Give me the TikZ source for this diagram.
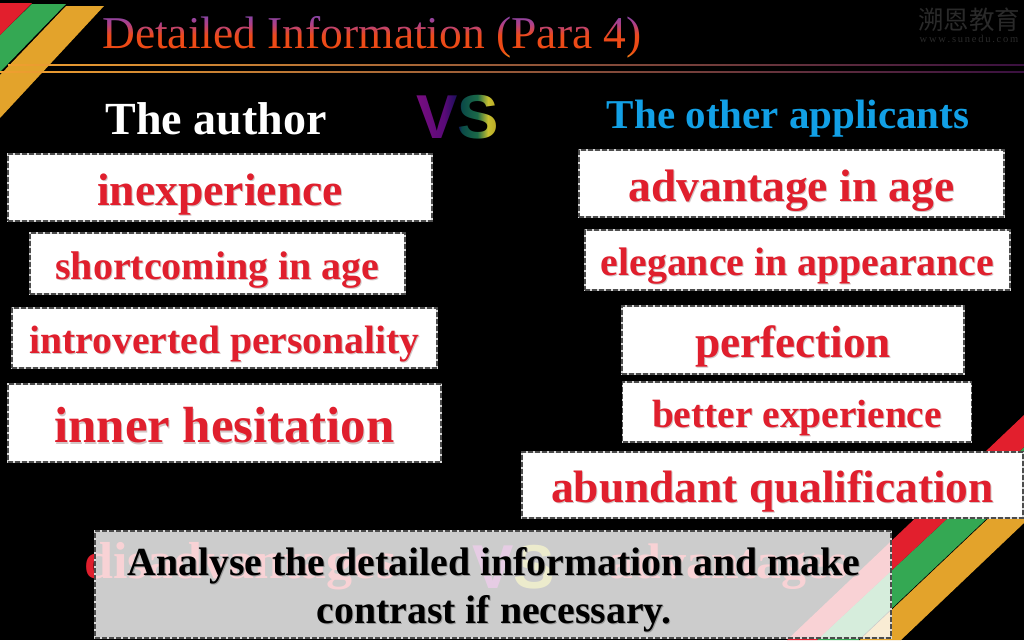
\documentclass[tikz,border=0pt]{standalone}
\usepackage{fontspec}
\setmainfont{Liberation Serif}
\newfontfamily\vsfont{Liberation Sans}
\newfontfamily\cjkfont{Noto Sans CJK SC}
\usetikzlibrary{fadings}
\definecolor{wordred}{HTML}{E01F2D}
\definecolor{wordshadow}{HTML}{D2C6C6}
\definecolor{stripered}{HTML}{E21F2D}
\definecolor{stripegreen}{HTML}{34A853}
\definecolor{stripegold}{HTML}{E3A32B}
\definecolor{skyblue}{HTML}{12A0E6}
\definecolor{marksgray}{HTML}{2A2A2A}
\definecolor{tA}{HTML}{F2A020}
\definecolor{tB}{HTML}{EE4A12}
\definecolor{tC}{HTML}{EC4A1C}
\definecolor{tD}{HTML}{B04088}
\definecolor{tE}{HTML}{6A48B8}
\definecolor{vA}{HTML}{7A0E80}
\definecolor{vB}{HTML}{5A0A78}
\definecolor{vC}{HTML}{141058}
\definecolor{vD}{HTML}{0A4A48}
\definecolor{vE}{HTML}{1A6A48}
\definecolor{vF}{HTML}{C8C030}
\definecolor{vG}{HTML}{B09A20}
\definecolor{ruleA}{HTML}{F0A030}
\definecolor{ruleB}{HTML}{A04A30}
\definecolor{ruleC}{HTML}{3A1040}
\pgfdeclareverticalshading{titlegrad}{100bp}{
  color(0bp)=(tA); color(25bp)=(tA); color(34bp)=(tB); color(50bp)=(tC);
  color(61bp)=(tD); color(75bp)=(tE); color(100bp)=(tE)}
\pgfdeclarehorizontalshading{vsgrad}{100bp}{
  color(0bp)=(vA); color(25bp)=(vA); color(42bp)=(vB); color(50bp)=(vC);
  color(52bp)=(vD); color(61bp)=(vE); color(67bp)=(vF); color(75bp)=(vG); color(100bp)=(vG)}
\begin{tikzfadingfrompicture}[name=titlefade,x=1pt,y=-1pt]
\fill[transparent!100] (-274,-25) rectangle (274,25);
\node[anchor=base west,inner sep=0pt,text=transparent!0,font=\fontsize{45.5}{45.5}\selectfont] at (-270,13) {Detailed Information (Para 4)};
\end{tikzfadingfrompicture}
\begin{tikzfadingfrompicture}[name=vsfade,x=1pt,y=-1pt]
\fill[transparent!100] (-44,-27) rectangle (44,27);
\node[anchor=base west,inner sep=0pt,text=transparent!0,font=\vsfont\bfseries\fontsize{62}{62}\selectfont] at (-42,23) {VS};
\end{tikzfadingfrompicture}
\newcommand{\shtext}[1]{\leavevmode\rlap{\kern1pt\raisebox{-1.2pt}{\textcolor{wordshadow}{#1}}}\textcolor{wordred}{#1}}
\newcommand{\shblack}[1]{\leavevmode\rlap{\kern1pt\raisebox{-1pt}{\textcolor{black!40}{#1}}}\textcolor{black}{#1}}
\tikzset{
  x=1pt,y=-1pt,
  stripe/.style={draw=none},
  dashedge/.style={draw=black!15,line width=1.1pt,
    postaction={draw=black!70,line width=1.1pt,dash pattern=on 5pt off 2pt}},
  wordbox/.style n args={3}{
    rectangle,fill=white,dashedge,
    inner sep=0pt,outer sep=0pt,
    minimum width=#2,minimum height=#3,
    text height=1.0*#1 pt,text depth=0.22*#1 pt,
    font=\fontsize{#1}{#1}\selectfont\bfseries},
  heading/.style={anchor=base,inner sep=0pt,font=\fontsize{#1}{#1}\selectfont\bfseries},
}
\begin{document}
\begin{tikzpicture}
\useasboundingbox (0,0) rectangle (1024,640);
\fill[black] (0,0) rectangle (1024,640);
% top-left stripes
\fill[stripegold,stripe] (66,6) -- (104,6) -- (0,118) -- (0,75) -- cycle;
\fill[stripegreen,stripe] (32,4) -- (66,4) -- (0,72) -- (0,35) -- cycle;
\fill[stripered,stripe] (0,3) -- (32,3) -- (0,35) -- cycle;
% bottom-right stripes
\fill[stripegold,stripe] (1024,484) -- (1024,523) -- (901,640) -- (859,640) -- cycle;
\fill[stripegreen,stripe] (1024,447) -- (1024,484) -- (859,640) -- (817,640) -- cycle;
\fill[stripered,stripe] (1024,415) -- (1024,447) -- (817,640) -- (787,640) -- cycle;
\draw[black,line width=.6pt] (1024,484) -- (859,640);
% title rules
\fill[left color=ruleA,middle color=ruleB,right color=ruleC] (8,64) rectangle (1024,65);
\fill[left color=ruleA,middle color=ruleB,right color=ruleC] (0,71.2) rectangle (1024,72.8);
% watermark
\node[anchor=center,inner sep=0pt,text=marksgray,font=\cjkfont\fontsize{25.5}{25.5}\selectfont] (mark) at (969,20) {溯恩教育};
\node[anchor=center,inner sep=0pt,text=marksgray,font=\fontsize{10.5}{10.5}\selectfont] (url) at (969,39) {w\,w\,w\,.\,s\,u\,n\,e\,d\,u\,.\,c\,o\,m};
% title and VS: gradients shown through text-shaped fadings
\fill[shading=titlegrad,path fading=titlefade,fit fading=false,fading transform={shift={(372,35)}}] (98,10) rectangle (646,60);
\fill[shading=vsgrad,path fading=vsfade,fit fading=false,fading transform={shift={(458,115)}}] (414,88) rectangle (502,142);
% headings
\node[heading=46,text=white] (author) at (216,134) {The author};
\node[heading=41,text=skyblue] (others) at (788,128) {The other applicants};
% left column
\node[wordbox={45.6}{424}{67}] (a1) at (220,187.5) {\shtext{inexperience}};
\node[wordbox={40}{375}{61}] (a2) at (217.5,263.5) {\shtext{shortcoming in age}};
\node[wordbox={39.6}{425}{60}] (a3) at (224.5,338) {\shtext{introverted personality}};
\node[wordbox={50.8}{433}{78}] (a4) at (224.5,423) {\shtext{inner hesitation}};
% right column
\node[wordbox={45.5}{425}{67}] (b1) at (791.5,183.5) {\shtext{advantage in age}};
\node[wordbox={39.8}{425}{60}] (b2) at (797.5,260) {\shtext{elegance in appearance}};
\node[wordbox={45.2}{342}{68}] (b3) at (793,340) {\shtext{perfection}};
\node[wordbox={39.4}{349}{60}] (b4) at (797,412) {\shtext{better experience}};
\node[wordbox={45.4}{501}{66}] (b5) at (772.5,485) {\shtext{abundant qualification}};
% words behind the translucent panel
\node[heading=52,text=wordred,anchor=base west] (dis) at (84,578) {disadvantages};
\node[heading=50,text=wordred,anchor=base east] (adv) at (848,578) {advantages};
\node[anchor=base west,inner sep=0pt,font=\vsfont\bfseries\fontsize{62}{62}\selectfont] (ghost) at (472,588) {\textcolor{purple!70!blue}{V}\textcolor{olive!80!yellow}{S}};
% translucent panel
\fill[white,opacity=.8] (95,531) rectangle (891,638);
\node[rectangle,dashedge,inner sep=0pt,outer sep=0pt,minimum width=796,minimum height=107] (panel) at (493,584.5) {};
\node[anchor=base,inner sep=0pt,font=\fontsize{39.8}{48}\selectfont\bfseries] (note1) at (494,575) {\shblack{Analyse the detailed information and make}};
\node[anchor=base,inner sep=0pt,font=\fontsize{39.8}{48}\selectfont\bfseries] (note2) at (494,623) {\shblack{contrast if necessary.}};
\end{tikzpicture}
\end{document}
